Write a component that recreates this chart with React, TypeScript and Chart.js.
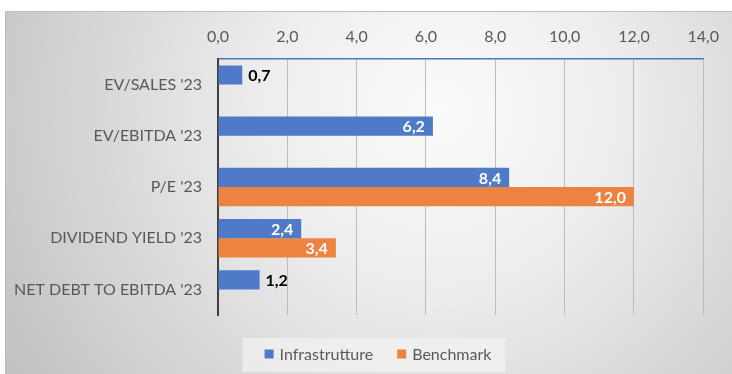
import React, { useEffect, useRef } from "react";
import { Chart, registerables } from "chart.js";

Chart.register(...registerables);

// Valuation multiples, 2023
const categories = [
  "EV/SALES '23",
  "EV/EBITDA '23",
  "P/E '23",
  "DIVIDEND YIELD '23",
  "NET DEBT TO EBITDA '23",
];
const seriesNames = ["Infrastrutture", "Benchmark"];
const infrastrutture = [0.7, 6.2, 8.4, 2.4, 1.2];
const benchmark = [null, null, 12.0, 3.4, null];
const axisMin = 0;
const axisMax = 14;
const axisStep = 2;

const FONT = "Lato, 'Noto Sans', sans-serif";
const BLUE = "#4E7AC7";
const ORANGE = "#ED8340";
const TEXT = "#595959";

const fmt = (v: number) => v.toFixed(1).replace(".", ",");

// Soft grey radial panel behind the chart
const panelPlugin = {
  id: "panel",
  beforeDraw(chart: any) {
    const { ctx, width, height } = chart;
    ctx.save();
    ctx.fillStyle = "#ffffff";
    ctx.fillRect(0, 0, width, height);
    const g = ctx.createRadialGradient(440, 110, 0, 440, 110, 520);
    g.addColorStop(0, "#fbfbfb");
    g.addColorStop(0.35, "#ededed");
    g.addColorStop(1, "#bfbfbf");
    ctx.fillStyle = g;
    ctx.fillRect(5, 11, width - 5, height - 11);
    ctx.strokeStyle = "#bdbdbd";
    ctx.lineWidth = 1;
    ctx.beginPath();
    ctx.moveTo(5.5, height);
    ctx.lineTo(5.5, 11.5);
    ctx.lineTo(width, 11.5);
    ctx.stroke();
    ctx.restore();
  },
};

// Value labels: inside the bar end when there is room, otherwise just past it
const valueLabelPlugin = {
  id: "valueLabels",
  afterDatasetsDraw(chart: any) {
    const ctx = chart.ctx;
    ctx.save();
    ctx.font = `bold 16px ${FONT}`;
    ctx.textBaseline = "middle";
    chart.data.datasets.forEach((ds: any, di: number) => {
      const meta = chart.getDatasetMeta(di);
      meta.data.forEach((bar: any, i: number) => {
        const v = ds.data[i];
        if (v === null || v === undefined) return;
        const { x, y, base } = bar.getProps(["x", "y", "base"], true);
        const text = fmt(v);
        const w = ctx.measureText(text).width;
        if (x - base > w + 24) {
          ctx.fillStyle = "#ffffff";
          ctx.textAlign = "right";
          ctx.fillText(text, x - 8, y + 1);
        } else {
          ctx.fillStyle = "#000000";
          ctx.textAlign = "left";
          ctx.fillText(text, x + 6, y + 1);
        }
      });
    });
    ctx.restore();
  },
};

// Boxed legend under the plot
const boxedLegendPlugin = {
  id: "boxedLegend",
  afterDraw(chart: any) {
    const { ctx, chartArea } = chart;
    const items = chart.data.datasets.map((ds: any) => ({
      text: ds.label as string,
      color: ds.backgroundColor as string,
    }));
    ctx.save();
    ctx.font = `16px ${FONT}`;
    const sq = 9;
    const gap = 6;
    const between = 24;
    const widths = items.map((it: any) => sq + gap + ctx.measureText(it.text).width);
    const total = widths.reduce((a: number, b: number) => a + b, 0) + between * (items.length - 1);
    const cx = chart.width / 2 + 12;
    const cy = chartArea.bottom + 39;
    let x = cx - total / 2;
    ctx.fillStyle = "rgba(245,245,245,0.65)";
    ctx.fillRect(x - 22, cy - 16, total + 36, 34);
    ctx.textBaseline = "middle";
    ctx.textAlign = "left";
    items.forEach((it: any, i: number) => {
      ctx.fillStyle = it.color;
      ctx.fillRect(x, cy - sq / 2, sq, sq);
      ctx.fillStyle = TEXT;
      ctx.fillText(it.text, x + sq + gap, cy + 1);
      x += widths[i] + between;
    });
    ctx.restore();
  },
};

export default function App() {
  const ref = useRef<HTMLCanvasElement>(null);

  useEffect(() => {
    document.body.style.margin = "0";
    const canvas = ref.current;
    if (!canvas) return;
    const chart = new Chart(canvas, {
      type: "bar",
      data: {
        labels: categories,
        datasets: [
          {
            label: seriesNames[0],
            data: infrastrutture,
            backgroundColor: BLUE,
            barPercentage: 1,
            categoryPercentage: 0.75,
          },
          {
            label: seriesNames[1],
            data: benchmark,
            backgroundColor: ORANGE,
            barPercentage: 1,
            categoryPercentage: 0.75,
          },
        ],
      },
      options: {
        indexAxis: "y",
        responsive: false,
        animation: false,
        devicePixelRatio: 1,
        layout: { padding: { top: 11, left: 10, right: 28, bottom: 59 } },
        plugins: {
          legend: { display: false },
          tooltip: { enabled: false },
        },
        scales: {
          x: {
            type: "linear",
            position: "top",
            min: axisMin,
            max: axisMax,
            ticks: {
              stepSize: axisStep,
              callback: (v: any) => fmt(Number(v)),
              color: TEXT,
              font: { family: FONT, size: 16 },
              padding: 13,
            },
            grid: { color: "#bcbcbc", lineWidth: 1, drawTicks: false },
            border: { color: "#4A76C4", width: 1.5 },
            afterFit: (scale: any) => {
              scale.height = 48;
            },
          },
          y: {
            type: "category",
            ticks: {
              color: TEXT,
              font: { family: FONT, size: 16 },
              padding: 16,
            },
            grid: { display: false, drawTicks: false },
            border: { color: "#404040", width: 2 },
            afterFit: (scale: any) => {
              scale.width = 208;
            },
          },
        },
      },
      plugins: [panelPlugin, valueLabelPlugin, boxedLegendPlugin],
    } as any);
    return () => chart.destroy();
  }, []);

  return (
    <div style={{ width: 732, height: 374 }}>
      <canvas ref={ref} width={732} height={374} style={{ display: "block" }} />
    </div>
  );
}
